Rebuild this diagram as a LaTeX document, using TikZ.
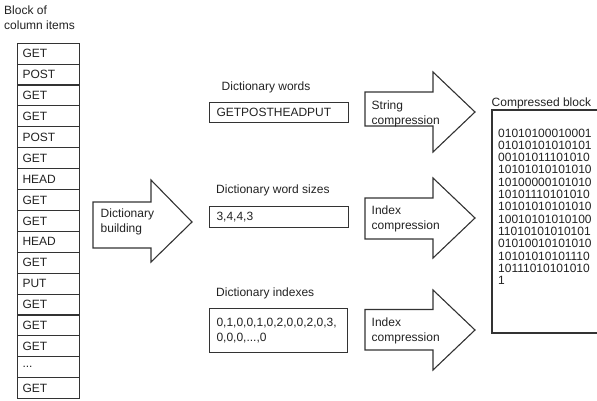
\documentclass[tikz,border=0pt]{standalone}
\usepackage{fontspec}
\setmainfont{Liberation Sans}
\definecolor{ink}{HTML}{222222}
\definecolor{edge}{HTML}{333333}
\newcommand{\myell}{...}
\begin{document}
\begin{tikzpicture}[x=1pt,y=-1pt,
  every node/.style={text=ink,font=\fontsize{12}{15}\selectfont},
  cell/.style={draw=edge,line width=1.1pt,minimum height=20.9pt,text width=52pt,inner xsep=5pt,inner ysep=0pt,align=left,anchor=north west},
  databox/.style={draw=edge,line width=1.1pt,inner xsep=7pt,inner ysep=0pt,anchor=north west,align=left},
  lbl/.style={inner sep=0pt,anchor=west,align=left},
  bigarrow/.style={draw=edge,line width=1.1pt,line join=miter}]
\useasboundingbox (0,0) rectangle (597,401);

% column block label
\node[lbl] (blocklbl) at (4,18) {Block of\\column items};

% column items
\foreach \t [count=\i] in {GET,POST,GET,GET,POST,GET,HEAD,GET,GET,HEAD,GET,PUT,GET,GET,GET,\myell,GET}{
  \node[cell] (c\i) at (17,{42.7+(\i-1)*20.9}) {\t};
}

% Dictionary building arrow
\draw[bigarrow] (93,202) -- (151,202) -- (151,180) -- (192,222) -- (151,262) -- (151,248) -- (93,248) -- cycle;
\node[lbl] (build) at (100.5,221.5) {Dictionary\\building};

% Dictionary words
\node[lbl] (wordslbl) at (221.5,87) {Dictionary words};
\node[databox,minimum width=139pt,minimum height=20.5pt,text width=125pt] (words) at (209,101.8) {GETPOSTHEADPUT};

% Dictionary word sizes
\node[lbl] (sizeslbl) at (216,190) {Dictionary word sizes};
\node[databox,minimum width=139pt,minimum height=21pt,text width=125pt] (sizes) at (209,206) {3,4,4,3};

% Dictionary indexes
\node[lbl] (idxlbl) at (216,293.5) {Dictionary indexes};
\node[databox,minimum width=138pt,minimum height=44pt,text width=124pt] (idx) at (209,308.3) {0,1,0,0,1,0,2,0,0,2,0,3,\\0,0,0,...,0};

% String compression arrow
\draw[bigarrow] (365,92) -- (433,92) -- (433,72) -- (475,112) -- (433,152) -- (433,126) -- (365,126) -- cycle;
\node[lbl] (strc) at (371.5,113.5) {String\\compression};

% Index compression arrow 1
\draw[bigarrow] (365,198) -- (433,198) -- (433,178) -- (475,218) -- (433,258) -- (433,239) -- (365,239) -- cycle;
\node[lbl] (idxc1) at (371.5,219) {Index\\compression};

% Index compression arrow 2
\draw[bigarrow] (365,309.5) -- (433,309.5) -- (433,290) -- (475,330) -- (433,370) -- (433,350) -- (365,350) -- cycle;
\node[lbl] (idxc2) at (371.5,331) {Index\\compression};

% Compressed block
\node[lbl] (complbl) at (491.5,103.5) {Compressed block};
\draw[draw=edge,line width=1.1pt] (605,110) -- (492,110) -- (492,333) -- (605,333);
\node[inner sep=0pt,anchor=north west,align=left,font=\fontsize{12}{12.3}\selectfont] (bits) at (498,128.5)
 {01010100010001\\01010101010101\\00101011101010\\10101010101010\\10100000101010\\10101110101010\\10101010101010\\10010101010100\\11010101010101\\01010010101010\\10101010101110\\10111010101010\\1};
\end{tikzpicture}
\end{document}
